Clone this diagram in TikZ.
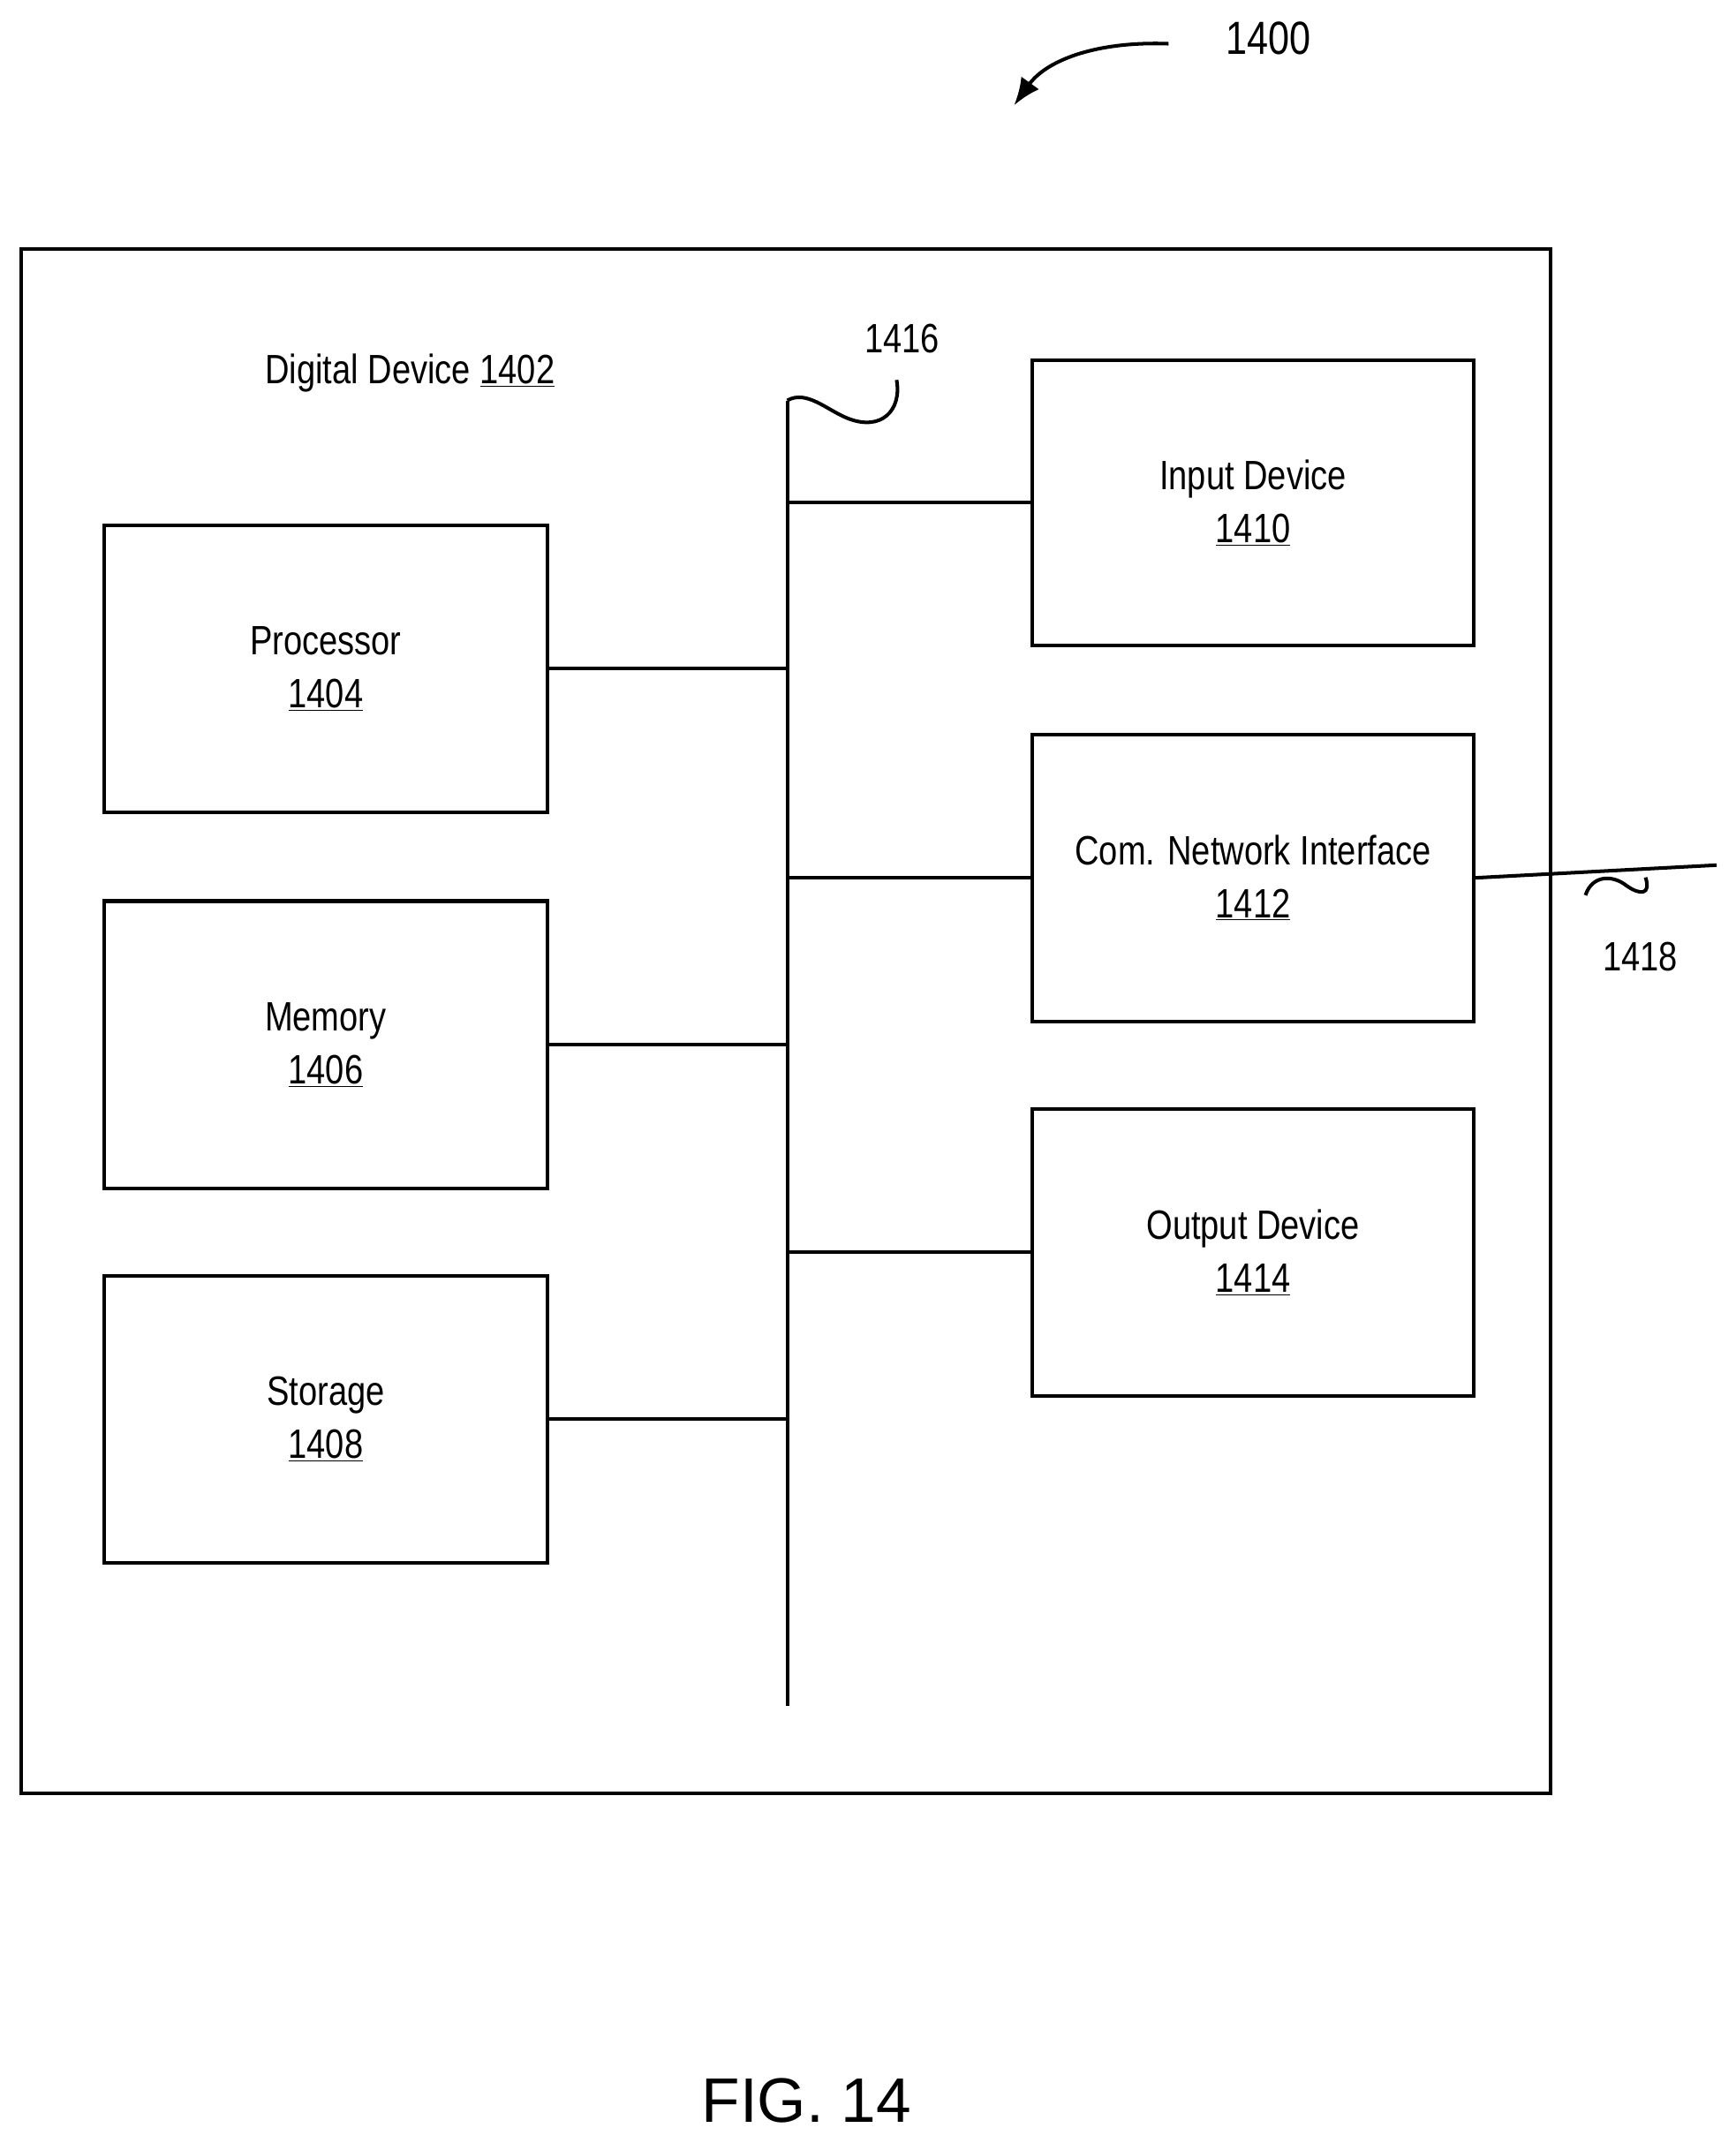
\documentclass[tikz,border=0pt]{standalone}
\usepackage{fontspec}
\usetikzlibrary{arrows.meta}
\setmainfont{Liberation Sans}[FakeStretch=0.82]
\newfontfamily\figfont{Liberation Sans}
\begin{document}
\begin{tikzpicture}[x=1pt,y=-1pt,line width=2.6pt,
 box/.style={draw,minimum width=324pt,minimum height=210pt,align=center,font=\fontsize{30}{39}\selectfont},
 lbl/.style={font=\fontsize{30}{36}\selectfont}]
\useasboundingbox (0,0) rectangle (1270,1568);
\node[draw,minimum width=1119pt,minimum height=1130pt,anchor=north west,inner sep=0] (dev) at (14,181) {};
\node[box,anchor=north west] (proc) at (75,383) {Processor\\\underline{1404}};
\node[box,anchor=north west] (mem) at (75,658) {Memory\\\underline{1406}};
\node[box,anchor=north west] (sto) at (75,932) {Storage\\\underline{1408}};
\node[box,anchor=north west,minimum width=323pt,minimum height=209pt] (in) at (754,262) {Input Device\\\underline{1410}};
\node[box,anchor=north west,minimum width=323pt,minimum height=210pt] (com) at (754,536) {Com. Network Interface\\\underline{1412}};
\node[box,anchor=north west,minimum width=323pt,minimum height=210pt] (out) at (754,810) {Output Device\\\underline{1414}};
\coordinate (bt) at (576,293);
\coordinate (bb) at (576,1248);
\draw (bt) -- (bb);
\draw (proc.east) -- (proc.east -| bt);
\draw (mem.east) -- (mem.east -| bt);
\draw (sto.east) -- (sto.east -| bt);
\draw (in.west) -- (in.west -| bt);
\draw (com.west) -- (com.west -| bt);
\draw (out.west) -- (out.west -| bt);
\coordinate (net) at (1256,633);
\draw (com.east) -- (net);
\node[lbl] (n1402) at (300,273) {Digital Device \underline{1402}};
\node[lbl] (n1416) at (660,248) {1416};
\draw (bt) .. controls (590,285) and (605,300) .. (620,306) .. controls (645,316) and (660,300) .. (656,278);
\node[lbl] (n1418) at (1200,700) {1418};
\draw (1160,655) .. controls (1165,640) and (1180,640) .. (1190,648) .. controls (1200,655) and (1208,655) .. (1204,642);
\node[lbl,font=\fontsize{34}{40}\selectfont] (n1400) at (928,28) {1400};
\draw[-{Latex[length=20pt,width=16pt]}] (855,32) .. controls (800,30) and (765,45) .. (742,77);
\node[font=\figfont\fontsize{46}{50}\selectfont] (fig) at (590,1537) {FIG. 14};
\end{tikzpicture}
\end{document}
